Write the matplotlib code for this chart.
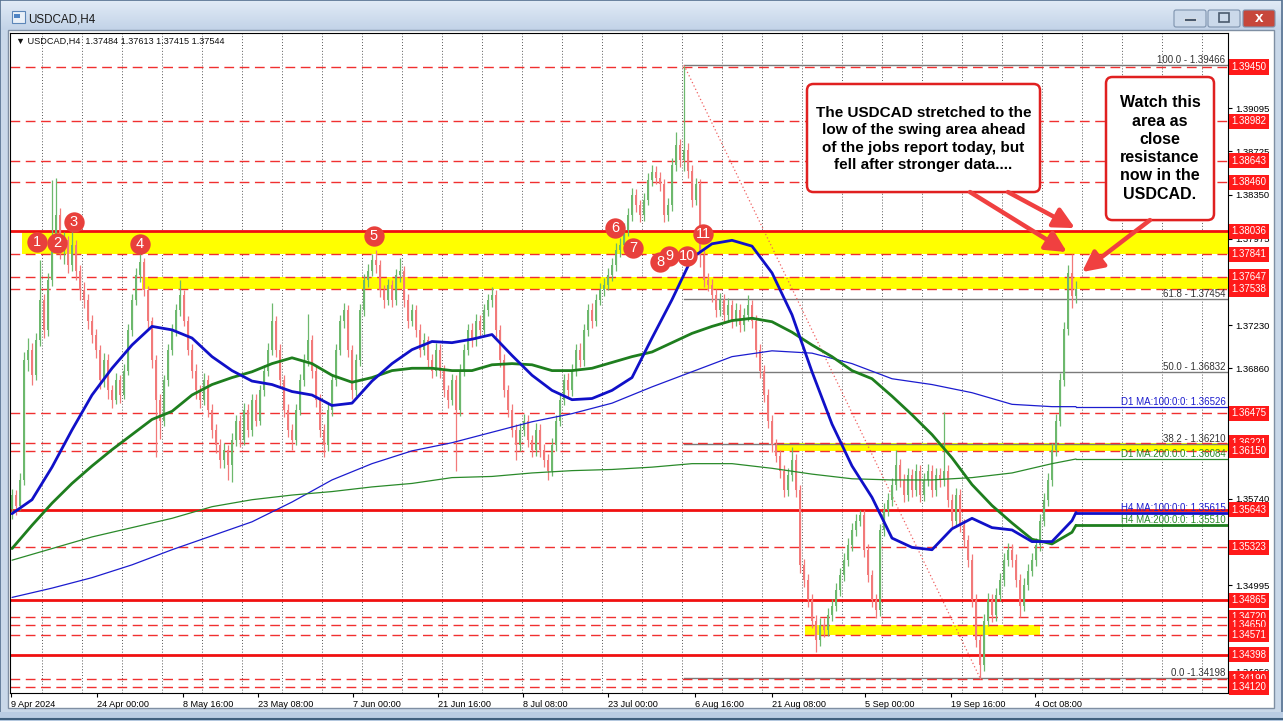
import numpy as np
import matplotlib
matplotlib.use('Agg')
import matplotlib.pyplot as plt
from matplotlib.patches import Rectangle, FancyBboxPatch
from matplotlib.colors import LinearSegmentedColormap

plt.rcParams['font.family'] = ['Liberation Sans', 'DejaVu Sans']

W, H = 1283, 721

# ---- H4 candles (price x 10000) ----
first_open = 13565
closes = [
    13577, 13568, 13590, 13693, 13702, 13680, 13710, 13745, 13719, 13762,
    13796, 13818, 13788, 13796, 13775, 13792, 13770, 13753, 13745, 13727,
    13715, 13702, 13676, 13693, 13667, 13659, 13676, 13663, 13684, 13719,
    13745, 13766, 13777, 13753, 13727, 13693, 13659, 13641, 13676, 13702,
    13719, 13736, 13749, 13727, 13702, 13684, 13667, 13659, 13676, 13650,
    13633, 13620, 13607, 13616, 13603, 13624, 13641, 13624, 13650, 13633,
    13659, 13641, 13667, 13684, 13702, 13727, 13702, 13676, 13650, 13633,
    13624, 13650, 13676, 13693, 13710, 13684, 13659, 13633, 13620, 13650,
    13676, 13702, 13727, 13736, 13702, 13667, 13693, 13736, 13762, 13770,
    13779, 13775, 13753, 13745, 13758, 13745, 13766, 13770, 13745, 13727,
    13736, 13719, 13702, 13710, 13693, 13684, 13702, 13684, 13667, 13659,
    13676, 13650, 13684, 13702, 13719, 13710, 13727, 13719, 13736, 13745,
    13749, 13719, 13693, 13667, 13650, 13633, 13620, 13633, 13641, 13624,
    13616, 13633, 13616, 13607, 13598, 13620, 13641, 13659, 13676, 13667,
    13684, 13702, 13693, 13719, 13736, 13727, 13745, 13753, 13758, 13766,
    13775, 13788, 13792, 13805, 13818, 13835, 13826, 13818, 13831, 13848,
    13855, 13850, 13844, 13818, 13826, 13861, 13878, 13865, 13874, 13856,
    13831, 13844, 13783, 13762, 13758, 13749, 13736, 13745, 13732, 13740,
    13727, 13736, 13723, 13732, 13740, 13727, 13702, 13684, 13663, 13641,
    13620, 13611, 13598, 13581, 13594, 13607, 13581, 13517, 13504, 13487,
    13469, 13452, 13465, 13461, 13474, 13482, 13495, 13508, 13521, 13534,
    13547, 13555, 13560, 13530, 13508, 13487, 13478, 13547, 13564, 13573,
    13586, 13603, 13590, 13577, 13594, 13581, 13598, 13577, 13590, 13598,
    13581, 13594, 13590, 13598, 13573, 13555, 13577, 13551, 13538, 13521,
    13487, 13452, 13431, 13469, 13487, 13474, 13491, 13504, 13521, 13530,
    13521, 13504, 13482, 13500, 13512, 13521, 13534, 13555, 13573, 13590,
    13616, 13641, 13676, 13720, 13768, 13748, 13754,
]
highs = [
    13582, 13581, 13596, 13700, 13712, 13708, 13716, 13779, 13750, 13768,
    13848, 13850, 13824, 13803, 13800, 13806, 13796, 13775, 13760, 13750,
    13732, 13720, 13706, 13699, 13698, 13672, 13682, 13680, 13690, 13724,
    13750, 13772, 13788, 13781, 13757, 13730, 13697, 13664, 13680, 13707,
    13724, 13741, 13762, 13753, 13731, 13707, 13690, 13672, 13682, 13680,
    13655, 13638, 13625, 13622, 13620, 13630, 13646, 13646, 13656, 13655,
    13664, 13664, 13672, 13689, 13708, 13742, 13731, 13707, 13680, 13655,
    13638, 13655, 13681, 13698, 13733, 13715, 13689, 13664, 13638, 13655,
    13681, 13707, 13732, 13742, 13740, 13706, 13698, 13741, 13767, 13776,
    13784, 13788, 13779, 13758, 13763, 13762, 13771, 13781, 13774, 13750,
    13741, 13740, 13724, 13716, 13714, 13698, 13708, 13707, 13689, 13672,
    13681, 13680, 13690, 13707, 13724, 13725, 13733, 13732, 13741, 13750,
    13756, 13753, 13723, 13698, 13672, 13655, 13638, 13639, 13647, 13646,
    13629, 13639, 13638, 13621, 13612, 13626, 13646, 13664, 13681, 13682,
    13690, 13707, 13708, 13724, 13741, 13742, 13750, 13759, 13764, 13772,
    13781, 13794, 13798, 13811, 13824, 13841, 13840, 13831, 13837, 13854,
    13861, 13860, 13855, 13849, 13832, 13867, 13889, 13883, 13946, 13880,
    13861, 13850, 13849, 13788, 13768, 13763, 13754, 13751, 13750, 13746,
    13745, 13742, 13741, 13738, 13749, 13745, 13732, 13707, 13689, 13668,
    13646, 13625, 13616, 13603, 13600, 13618, 13612, 13586, 13522, 13509,
    13492, 13474, 13471, 13471, 13480, 13488, 13501, 13514, 13527, 13540,
    13553, 13561, 13564, 13564, 13535, 13513, 13492, 13552, 13570, 13579,
    13592, 13616, 13608, 13595, 13600, 13599, 13604, 13603, 13596, 13604,
    13603, 13600, 13600, 13648, 13603, 13578, 13583, 13582, 13556, 13543,
    13526, 13492, 13457, 13475, 13493, 13492, 13497, 13510, 13527, 13536,
    13535, 13526, 13509, 13506, 13518, 13527, 13540, 13561, 13579, 13596,
    13622, 13647, 13682, 13726, 13775, 13784, 13761,
]
lows = [
    13556, 13560, 13564, 13586, 13684, 13672, 13676, 13705, 13712, 13714,
    13757, 13790, 13780, 13776, 13768, 13770, 13762, 13745, 13738, 13720,
    13708, 13695, 13668, 13670, 13660, 13652, 13655, 13656, 13660, 13680,
    13714, 13740, 13760, 13748, 13720, 13686, 13610, 13625, 13636, 13671,
    13697, 13714, 13731, 13722, 13697, 13678, 13660, 13652, 13654, 13644,
    13626, 13613, 13600, 13600, 13590, 13588, 13619, 13618, 13620, 13627,
    13628, 13636, 13637, 13662, 13679, 13697, 13696, 13670, 13644, 13627,
    13616, 13620, 13646, 13671, 13688, 13678, 13653, 13627, 13610, 13615,
    13645, 13671, 13697, 13721, 13696, 13660, 13662, 13688, 13731, 13756,
    13765, 13768, 13747, 13738, 13740, 13739, 13740, 13760, 13739, 13721,
    13722, 13713, 13696, 13697, 13687, 13678, 13679, 13678, 13661, 13652,
    13654, 13598, 13645, 13679, 13697, 13704, 13705, 13713, 13714, 13731,
    13739, 13713, 13687, 13661, 13644, 13627, 13607, 13615, 13628, 13618,
    13610, 13611, 13610, 13601, 13590, 13593, 13615, 13636, 13654, 13661,
    13662, 13679, 13687, 13688, 13714, 13721, 13722, 13740, 13748, 13753,
    13761, 13770, 13782, 13787, 13800, 13813, 13820, 13812, 13813, 13826,
    13843, 13844, 13838, 13812, 13813, 13821, 13856, 13859, 13856, 13850,
    13825, 13826, 13773, 13756, 13752, 13743, 13730, 13731, 13726, 13727,
    13721, 13722, 13717, 13718, 13727, 13721, 13696, 13678, 13657, 13635,
    13614, 13605, 13592, 13575, 13576, 13589, 13575, 13510, 13498, 13481,
    13463, 13442, 13447, 13455, 13456, 13469, 13477, 13490, 13503, 13516,
    13529, 13542, 13550, 13524, 13502, 13481, 13471, 13473, 13542, 13559,
    13568, 13581, 13584, 13571, 13572, 13575, 13576, 13571, 13572, 13585,
    13575, 13576, 13584, 13585, 13567, 13549, 13550, 13545, 13532, 13515,
    13481, 13446, 13419, 13426, 13464, 13468, 13469, 13486, 13499, 13516,
    13515, 13498, 13472, 13477, 13495, 13507, 13516, 13529, 13550, 13568,
    13585, 13611, 13636, 13671, 13715, 13738, 13742,
]

# moving averages (price x 10000): H4 every 5 bars, D1 every 10 bars, plus last bar
ma_h4_100 = [13561, 13573, 13601, 13633, 13663, 13686, 13706, 13722, 13719, 13712,
             13696, 13684, 13675, 13672, 13666, 13663, 13654, 13656, 13675, 13690,
             13702, 13709, 13708, 13711, 13715, 13697, 13680, 13667, 13659, 13660,
             13667, 13678, 13712, 13745, 13781, 13793, 13796, 13791, 13768, 13732,
             13683, 13638, 13602, 13575, 13540, 13532, 13530, 13548, 13557, 13549,
             13547, 13537, 13537, 13555, 13562]
ma_h4_200 = [13531, 13551, 13570, 13587, 13602, 13616, 13629, 13642, 13649, 13663,
             13672, 13678, 13683, 13690, 13695, 13690, 13680, 13674, 13678, 13684,
             13686, 13686, 13684, 13684, 13689, 13690, 13689, 13684, 13684, 13686,
             13691, 13696, 13700, 13708, 13716, 13722, 13727, 13729, 13726, 13717,
             13706, 13696, 13684, 13677, 13662, 13646, 13629, 13609, 13586, 13568,
             13553, 13539, 13535, 13545, 13551]
ma_d1_100 = [13489, 13497, 13506, 13517, 13530, 13542, 13554, 13571, 13590, 13604,
             13615, 13622, 13631, 13640, 13647, 13656, 13670, 13683, 13696, 13701,
             13699, 13690, 13677, 13672, 13665, 13655, 13653, 13653]
ma_d1_200 = [13521, 13531, 13541, 13549, 13557, 13567, 13573, 13577, 13580, 13584,
             13587, 13592, 13593, 13596, 13598, 13599, 13601, 13604, 13604, 13600,
             13595, 13591, 13590, 13590, 13592, 13596, 13604, 13608]
ma_labels = [("D1 MA:100:0:0: 1.36526", 1.36526, '#1C1CCF'),
             ("D1 MA:200:0:0: 1.36084", 1.36084, '#2A8A2A'),
             ("H4 MA:100:0:0: 1.35615", 1.35615, '#1C1CCF'),
             ("H4 MA:200:0:0: 1.35510", 1.35510, '#2A8A2A')]

# horizontal levels
solid_levels = [1.38036, 1.35643, 1.34865, 1.34398]
dashed_levels = [1.39450, 1.38982, 1.38643, 1.38460, 1.37841, 1.37647, 1.37538,
                 1.36475, 1.36221, 1.36150, 1.35323, 1.34720, 1.34650, 1.34571,
                 1.34190, 1.34120]
# scale labels that are not covered by the red level labels
axis_prices = [1.39095, 1.38725, 1.38350, 1.37975, 1.37230, 1.36860,
               1.35740, 1.35365, 1.34995, 1.34250]
# yellow zones: (first bar, last bar or None = to edge, low, high)
zones = [(2.5, None, 1.37841, 1.38036), (32.5, None, 1.37538, 1.37647),
         (190.75, None, 1.36150, 1.36221), (198.25, 257, 1.34571, 1.34650)]
# fibonacci from swing high bar to swing low bar
fib_high_bar, fib_low_bar = 168, 242
fib_levels = [("100.0 - 1.39466", 1.39466), ("61.8 - 1.37454", 1.37454),
              ("50.0 - 1.36832", 1.36832), ("38.2 - 1.36210", 1.36210),
              ("0.0 -1.34198", 1.34198)]

time_ticks = [-0.25, 21.25, 42.75, 61.5, 85.25, 106.5, 127.75, 149, 170.75,
              190, 213.25, 234.75, 255.75]
time_labels = ["9 Apr 2024", "24 Apr 00:00", "8 May 16:00", "23 May 08:00",
               "7 Jun 00:00", "21 Jun 16:00", "8 Jul 08:00", "23 Jul 00:00",
               "6 Aug 16:00", "21 Aug 08:00", "5 Sep 00:00", "19 Sep 16:00",
               "4 Oct 08:00"]

# numbered touches: (bar, price)
touches = [(6.25, 1.37945), (11.25, 1.37936), (15.5, 1.38117), (32, 1.37928),
           (90.5, 1.37996), (150.75, 1.38065), (155.25, 1.37893), (162, 1.37773),
           (164.25, 1.37824), (168.75, 1.37824), (172.75, 1.38014)]

note1 = "The USDCAD stretched to the\nlow of the swing area ahead\nof the jobs report today, but\nfell after stronger data...."
note2 = "Watch this\narea as\nclose\nresistance\nnow in the\nUSDCAD."

# ---------------------------------------------------------------
closes = np.array(closes) / 1e4
highs = np.array(highs) / 1e4
lows = np.array(lows) / 1e4
opens = np.concatenate([[first_open / 1e4], closes[:-1]])
idx = np.arange(len(closes))

XMIN, XMAX = -0.5, 304.0
YMIN, YMAX = 1.340683, 1.397423

fig = plt.figure(figsize=(W / 100, H / 100), dpi=100)
fig.patch.set_facecolor('#C9D8E9')

# window frame drawn in pixel units
bg = fig.add_axes([0, 0, 1, 1], zorder=0)
bg.set_xlim(0, W)
bg.set_ylim(H, 0)
bg.axis('off')
grad = np.linspace(0, 1, 30).reshape(-1, 1)
cm = LinearSegmentedColormap.from_list('tb', ['#E2EBF6', '#C2D3E8'])
bg.imshow(grad, extent=(0, W, 30, 0), aspect='auto', cmap=cm, zorder=0)
bg.add_patch(Rectangle((0, 0), W - 1, H - 1, fill=False, ec='#55708F', lw=1.2))
bg.add_patch(Rectangle((8, 30), 1266, 678, fc='white', ec='#7F8FA3', lw=1))
bg.add_patch(Rectangle((0, 712), W, 9, fc='#B9CCE3', ec='none'))
bg.plot([0, W], [719, 719], color='#40607F', lw=1.5)
bg.add_patch(Rectangle((12, 11), 13, 12, fc='#E9F0F8', ec='#5C86B8', lw=0.8))
bg.add_patch(Rectangle((14, 14), 6, 4, fc='#4F84C4', ec='none'))
bg.text(28, 19, "USDCAD,H4", fontsize=8.4, va='center', color='#1A1A1A')
for bx, fc in [(1174, '#CBD9EA'), (1208, '#CBD9EA'), (1243, '#C7473B')]:
    bg.add_patch(FancyBboxPatch((bx, 10), 32, 17, boxstyle='round,pad=0,rounding_size=2',
                                fc=fc, ec='#7E93AE', lw=0.8))
bg.add_patch(Rectangle((1184, 18), 12, 3, fc='#4A5A6E', ec='#F0F4F8', lw=0.5))
bg.add_patch(Rectangle((1219, 13), 10, 9, fc='none', ec='#4A5A6E', lw=1.2))
bg.text(1259, 18.5, "x", fontsize=11, fontweight='bold', color='white',
        ha='center', va='center')

# chart area
ax = fig.add_axes([10 / W, 1 - 693 / H, 1218 / W, 660 / H], zorder=1)
ax.set_xlim(XMIN, XMAX)
ax.set_ylim(YMIN, YMAX)
ax.set_facecolor('white')
for s in ax.spines.values():
    s.set_color('black')
    s.set_linewidth(0.8)

# vertical dotted grid
for gx in np.arange(7.5, XMAX, 10):
    ax.axvline(gx, color='#5A5A5A', lw=0.7, ls=(0, (1, 2)), zorder=0.5)

# yellow zones
for x0, x1, lo, hi in zones:
    x1 = XMAX if x1 is None else x1
    ax.add_patch(Rectangle((x0, lo), x1 - x0, hi - lo, fc='#FFFF00', ec='none', zorder=1))

# fib
for txt, lv in fib_levels:
    ax.plot([fib_high_bar, XMAX], [lv, lv], color='#7A7A7A', lw=1, zorder=2)
    ax.text(0.998, lv, txt, transform=ax.get_yaxis_transform(), ha='right',
            va='bottom', fontsize=7, color='#333333', zorder=6)
ax.plot([fib_high_bar, fib_low_bar], [fib_levels[0][1], fib_levels[-1][1]],
        color='#F06060', lw=0.9, ls=(0, (1, 2)), zorder=2)

# horizontal levels
for lv in dashed_levels:
    ax.axhline(lv, color='#F03030', lw=1.0, ls=(0, (7, 4)), zorder=2)
for lv in solid_levels:
    ax.axhline(lv, color='#F01010', lw=2.0, zorder=2.2)

# candles
green, red = '#6DB86D', '#F27A7A'
up = closes >= opens
cols = [green if u else red for u in up]
ax.vlines(idx, lows, highs, colors=cols, lw=0.9, zorder=3)
body_lo = np.minimum(opens, closes)
body_h = np.maximum(np.abs(closes - opens), 0.00003)
ax.bar(idx, body_h, bottom=body_lo, width=0.5, color=cols, lw=0, zorder=3)

# moving averages
b5 = list(range(0, 266, 5)) + [266]
b10 = list(range(0, 261, 10)) + [266]
for bars, vals, col, lw in [(b10, ma_d1_100, '#1C1CCF', 0.9), (b10, ma_d1_200, '#2A8A2A', 0.9),
                            (b5, ma_h4_200, '#1E7E1E', 2.0), (b5, ma_h4_100, '#1010C8', 2.0)]:
    v = np.array(vals) / 1e4
    ax.plot(bars, v, color=col, lw=lw, zorder=4, solid_capstyle='round')
    ax.plot([bars[-1], XMAX], [v[-1], v[-1]], color=col, lw=lw, zorder=4)
for txt, lv, col in ma_labels:
    ax.text(0.998, lv, txt, transform=ax.get_yaxis_transform(), ha='right',
            va='bottom', fontsize=7, color=col, zorder=6)

# price axis
ax.yaxis.tick_right()
ax.set_yticks(axis_prices)
ax.set_yticklabels([f"{p:.5f}" for p in axis_prices], fontsize=6.8)
ax.tick_params(axis='y', length=3, pad=2, width=0.8)
for lv in solid_levels + dashed_levels:
    ax.text(1.0028, lv, f"{lv:.5f}", transform=ax.get_yaxis_transform(), ha='left',
            va='center', fontsize=7, color='white', zorder=10, clip_on=False,
            bbox=dict(boxstyle='square,pad=0.26', fc='#FF1A1A', ec='none'))

# time axis
ax.set_xticks(time_ticks)
ax.set_xticklabels(time_labels, fontsize=6.6, ha='left')
ax.tick_params(axis='x', length=3, pad=2, width=0.8)

ax.text(0.005, 0.994, "\u25BC USDCAD,H4  1.37484 1.37613 1.37415 1.37544",
        transform=ax.transAxes, fontsize=6.6, va='top', ha='left', color='#111111')

# numbered touches
for n, (b, p) in enumerate(touches, start=1):
    ax.scatter([b], [p], s=215, color='#E8403C', zorder=8, lw=0)
    ax.text(b, p, str(n), color='white', fontsize=10.5, ha='center', va='center', zorder=9)

# callouts
asp = (1 / 11632) / 0.25
box1 = FancyBboxPatch((198.75, 1.38375), 58.25, 0.00929, boxstyle='round,pad=0,rounding_size=1.6',
                      mutation_aspect=asp, fc='white', ec='#E02020', lw=1.8, zorder=7)
box2 = FancyBboxPatch((273.5, 1.38134), 27.0, 0.01230, boxstyle='round,pad=0,rounding_size=1.6',
                      mutation_aspect=asp, fc='white', ec='#E02020', lw=1.8, zorder=7,
                      clip_on=False)
ax.add_patch(box1)
ax.add_patch(box2)
ax.text(227.9, 1.38830, note1, ha='center', va='center', fontsize=11, fontweight='bold',
        linespacing=1.3, zorder=8)
ax.text(287.0, 1.38749, note2, ha='center', va='center', fontsize=11.5, fontweight='bold',
        linespacing=1.27, zorder=8)

arrows = [((239.5, 1.38375), (263.75, 1.37859)),
          ((249.0, 1.38375), (265.75, 1.38065)),
          ((284.5, 1.38134), (267.5, 1.37687))]
for start, tip in arrows:
    ax.annotate('', xy=tip, xytext=start, zorder=7,
                arrowprops=dict(arrowstyle='-|>,head_length=0.7,head_width=0.35',
                                mutation_scale=18, lw=3.2, color='#F04040',
                                shrinkA=0, shrinkB=0))

fig.savefig('out.png', dpi=100)
